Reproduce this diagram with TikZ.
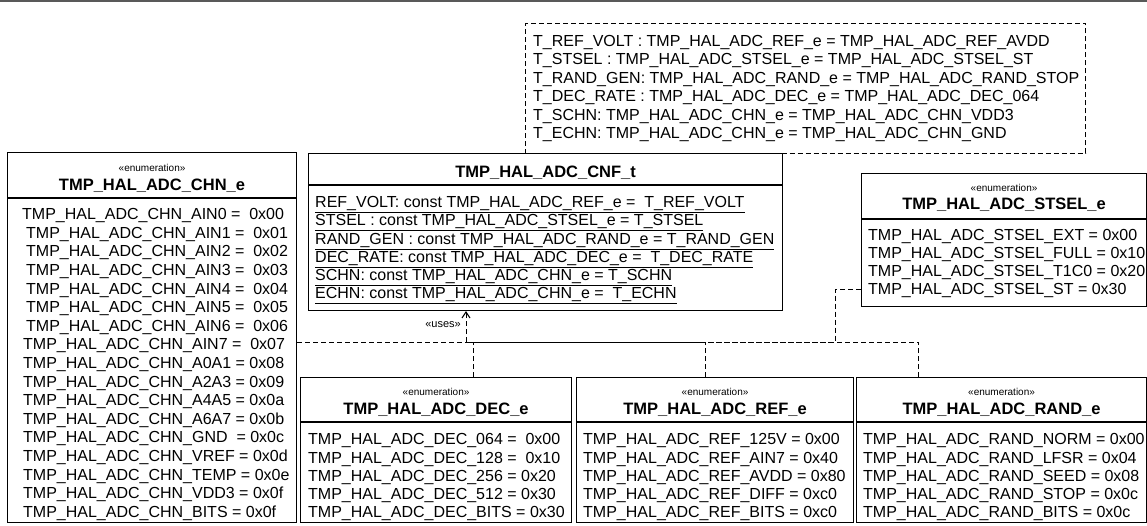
\documentclass[tikz,border=0pt]{standalone}
\usepackage{fontspec}
\setmainfont{Liberation Sans}
\usetikzlibrary{arrows.meta}
\newcommand\rowfont{\fontsize{16}{18}\selectfont}
\newcommand\ttlfont{\fontsize{16.5}{18}\selectfont\bfseries}
\newcommand\sterfont{\fontsize{10}{12}\selectfont}
\newcommand\usesfont{\fontsize{11}{12}\selectfont}
\begin{document}
\begin{tikzpicture}[x=1pt,y=-1pt,
  box/.style={draw=black, line width=1.1pt, fill=white, inner sep=0pt, anchor=north west},
  note/.style={draw=black, line width=1pt, dash pattern=on 5pt off 3pt, fill=white, inner sep=0pt, anchor=north west},
  row/.style={anchor=west, inner sep=0pt, font=\rowfont, text height=11.5pt, text depth=0pt},
  ttl/.style={inner sep=0pt, font=\ttlfont, text height=12pt, text depth=0pt},
  ster/.style={inner sep=0pt, font=\sterfont, text height=7pt, text depth=0pt},
  divl/.style={line width=1.1pt},
  dep/.style={line width=1pt, dash pattern=on 5pt off 3pt},
  ]
\useasboundingbox (0,0) rectangle (1147,526);
\fill[black!65] (0,0) rectangle (1147,2);

% ---------- CHN enumeration ----------
\node[box, minimum width=289pt, minimum height=370pt] (chn) at (7,152) {};
\node[ster] (chns) at ([yshift=-16pt]chn.north) {«enumeration»};
\node[ttl] (chnt) at ([yshift=-33pt]chn.north) {TMP\_HAL\_ADC\_CHN\_e};
\draw[divl] ([yshift=-46pt]chn.north west) -- ([yshift=-46pt]chn.north east);
\foreach \xx/\tt [count=\i from 0] in {
  22/{TMP\_HAL\_ADC\_CHN\_AIN0 =\ \ 0x00},
  26/{TMP\_HAL\_ADC\_CHN\_AIN1 =\ \ 0x01},
  26/{TMP\_HAL\_ADC\_CHN\_AIN2 =\ \ 0x02},
  26/{TMP\_HAL\_ADC\_CHN\_AIN3 =\ \ 0x03},
  26/{TMP\_HAL\_ADC\_CHN\_AIN4 =\ \ 0x04},
  26/{TMP\_HAL\_ADC\_CHN\_AIN5 =\ \ 0x05},
  26/{TMP\_HAL\_ADC\_CHN\_AIN6 =\ \ 0x06},
  23/{TMP\_HAL\_ADC\_CHN\_AIN7 =\ \ 0x07},
  23/{TMP\_HAL\_ADC\_CHN\_A0A1 = 0x08},
  23/{TMP\_HAL\_ADC\_CHN\_A2A3 = 0x09},
  23/{TMP\_HAL\_ADC\_CHN\_A4A5 = 0x0a},
  23/{TMP\_HAL\_ADC\_CHN\_A6A7 = 0x0b},
  23/{TMP\_HAL\_ADC\_CHN\_GND\ \ = 0x0c},
  23/{TMP\_HAL\_ADC\_CHN\_VREF = 0x0d},
  23/{TMP\_HAL\_ADC\_CHN\_TEMP = 0x0e},
  23/{TMP\_HAL\_ADC\_CHN\_VDD3 = 0x0f},
  23/{TMP\_HAL\_ADC\_CHN\_BITS = 0x0f}}
  \node[row] (chn-\i) at (\xx,214+18.6*\i) {\tt};

% ---------- CNF class ----------
\node[box, minimum width=474pt, minimum height=157pt] (cnf) at (308,153) {};
\node[ttl] (cnft) at ([yshift=-19pt]cnf.north) {TMP\_HAL\_ADC\_CNF\_t};
\draw[divl] ([yshift=-32pt]cnf.north west) -- ([yshift=-32pt]cnf.north east);
\foreach \tt [count=\i from 0] in {
  {REF\_VOLT: const TMP\_HAL\_ADC\_REF\_e =\ \ T\_REF\_VOLT},
  {STSEL : const TMP\_HAL\_ADC\_STSEL\_e = T\_STSEL},
  {RAND\_GEN : const TMP\_HAL\_ADC\_RAND\_e = T\_RAND\_GEN},
  {DEC\_RATE: const TMP\_HAL\_ADC\_DEC\_e =\ \ T\_DEC\_RATE},
  {SCHN: const TMP\_HAL\_ADC\_CHN\_e = T\_SCHN},
  {ECHN: const TMP\_HAL\_ADC\_CHN\_e =\ \ T\_ECHN}}
  \node[row] (cnf-\i) at (315,202+18.2*\i) {\underline{\tt}};

% ---------- note ----------
\node[note, minimum width=560pt, minimum height=130pt] (nt) at (525,23) {};
\foreach \tt [count=\i from 0] in {
  {T\_REF\_VOLT : TMP\_HAL\_ADC\_REF\_e = TMP\_HAL\_ADC\_REF\_AVDD},
  {T\_STSEL : TMP\_HAL\_ADC\_STSEL\_e = TMP\_HAL\_ADC\_STSEL\_ST},
  {T\_RAND\_GEN: TMP\_HAL\_ADC\_RAND\_e = TMP\_HAL\_ADC\_RAND\_STOP},
  {T\_DEC\_RATE : TMP\_HAL\_ADC\_DEC\_e = TMP\_HAL\_ADC\_DEC\_064},
  {T\_SCHN: TMP\_HAL\_ADC\_CHN\_e = TMP\_HAL\_ADC\_CHN\_VDD3},
  {T\_ECHN: TMP\_HAL\_ADC\_CHN\_e = TMP\_HAL\_ADC\_CHN\_GND}}
  \node[row] (nt-\i) at (533,40.7+18.5*\i) {\tt};

% ---------- STSEL enumeration ----------
\node[box, minimum width=285pt, minimum height=133pt] (stsel) at (861,173) {};
\node[ster] (stsels) at ([yshift=-15pt]stsel.north) {«enumeration»};
\node[ttl] (stselt) at ([yshift=-31pt]stsel.north) {TMP\_HAL\_ADC\_STSEL\_e};
\draw[divl] ([yshift=-46pt]stsel.north west) -- ([yshift=-46pt]stsel.north east);
\foreach \tt [count=\i from 0] in {
  {TMP\_HAL\_ADC\_STSEL\_EXT = 0x00},
  {TMP\_HAL\_ADC\_STSEL\_FULL = 0x10},
  {TMP\_HAL\_ADC\_STSEL\_T1C0 = 0x20},
  {TMP\_HAL\_ADC\_STSEL\_ST = 0x30}}
  \node[row] (stsel-\i) at (868,235+18*\i) {\tt};

% ---------- DEC enumeration ----------
\node[box, minimum width=271pt, minimum height=145pt] (dec) at (300,377) {};
\node[ster] (decs) at ([yshift=-15pt]dec.north) {«enumeration»};
\node[ttl] (dect) at ([yshift=-31pt]dec.north) {TMP\_HAL\_ADC\_DEC\_e};
\draw[divl] ([yshift=-45pt]dec.north west) -- ([yshift=-45pt]dec.north east);
\foreach \tt [count=\i from 0] in {
  {TMP\_HAL\_ADC\_DEC\_064 =\ \ 0x00},
  {TMP\_HAL\_ADC\_DEC\_128 =\ \ 0x10},
  {TMP\_HAL\_ADC\_DEC\_256 = 0x20},
  {TMP\_HAL\_ADC\_DEC\_512 = 0x30},
  {TMP\_HAL\_ADC\_DEC\_BITS = 0x30}}
  \node[row] (dec-\i) at (308,439+18.3*\i) {\tt};

% ---------- REF enumeration ----------
\node[box, minimum width=277pt, minimum height=145pt] (ref) at (576,377) {};
\node[ster] (refs) at ([yshift=-15pt]ref.north) {«enumeration»};
\node[ttl] (reft) at ([yshift=-31pt]ref.north) {TMP\_HAL\_ADC\_REF\_e};
\draw[divl] ([yshift=-45pt]ref.north west) -- ([yshift=-45pt]ref.north east);
\foreach \tt [count=\i from 0] in {
  {TMP\_HAL\_ADC\_REF\_125V = 0x00},
  {TMP\_HAL\_ADC\_REF\_AIN7 = 0x40},
  {TMP\_HAL\_ADC\_REF\_AVDD = 0x80},
  {TMP\_HAL\_ADC\_REF\_DIFF = 0xc0},
  {TMP\_HAL\_ADC\_REF\_BITS = 0xc0}}
  \node[row] (ref-\i) at (583,439+18.3*\i) {\tt};

% ---------- RAND enumeration ----------
\node[box, minimum width=290pt, minimum height=145pt] (rand) at (856,377) {};
\node[ster] (rands) at ([yshift=-15pt]rand.north) {«enumeration»};
\node[ttl] (randt) at ([yshift=-31pt]rand.north) {TMP\_HAL\_ADC\_RAND\_e};
\draw[divl] ([yshift=-45pt]rand.north west) -- ([yshift=-45pt]rand.north east);
\foreach \tt [count=\i from 0] in {
  {TMP\_HAL\_ADC\_RAND\_NORM = 0x00},
  {TMP\_HAL\_ADC\_RAND\_LFSR = 0x04},
  {TMP\_HAL\_ADC\_RAND\_SEED = 0x08},
  {TMP\_HAL\_ADC\_RAND\_STOP = 0x0c},
  {TMP\_HAL\_ADC\_RAND\_BITS = 0x0c}}
  \node[row] (rand-\i) at (863,439+18.3*\i) {\tt};

% ---------- dependencies ----------
\coordinate (j) at (466,342);
\draw[dep] (chn.east |- j) -- (j);
\draw[dep] ([xshift=37.5pt]dec.north) |- (j);
\draw[dep] ([xshift=-9.5pt]ref.north) |- (j);
\draw[dep] ([xshift=-83pt]rand.north) |- (j);
\draw[dep] ([yshift=-49.5pt]stsel.west) -- ++(-26,0) |- (j);
\draw[dep, -{Straight Barb[length=6pt,width=8pt,line width=1pt]}] (j) -- (j |- cnf.south);
\node[inner sep=0pt, font=\usesfont, anchor=east, text height=7pt, text depth=0pt] (uses) at (461,324) {«uses»};
\end{tikzpicture}
\end{document}
